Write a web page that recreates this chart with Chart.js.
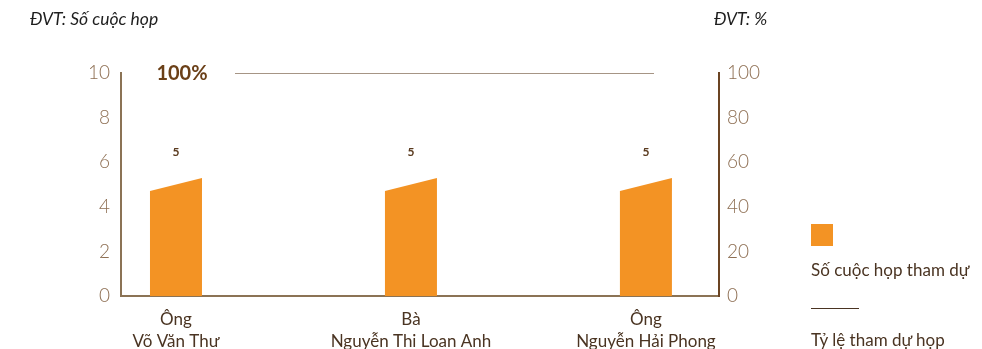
<!DOCTYPE html>
<html>
<head>
<meta charset="utf-8">
<script src="https://cdn.jsdelivr.net/npm/chart.js@4.4.1/dist/chart.umd.min.js"></script>
<style>
    body { margin: 0; background: #fff; }
    #wrap { position: relative; width: 982px; height: 349px; overflow: hidden; font-family: Lato, sans-serif; }
    #chart { position: absolute; left: 0; top: 0; }
    .unit { position: absolute; top: 8px; font-style: italic; font-size: 17.5px; color: #1e1e1e; }
    .legend-text { position: absolute; left: 811px; font-size: 17px; color: #4a3422; white-space: nowrap; }
    .legend-box { position: absolute; left: 811px; top: 224px; width: 22px; height: 22px; background: #f39324; }
    .legend-line { position: absolute; left: 811px; top: 308px; width: 48px; height: 1px; background: #4a3422; }
</style>
</head>
<body>
<div id="wrap">
    <canvas id="chart" width="982" height="349"></canvas>
    <div class="unit" style="left:30px">ĐVT: Số cuộc họp</div>
    <div class="unit" style="left:714px">ĐVT: %</div>
    <div class="legend-box"></div>
    <div class="legend-text" style="top:259px">Số cuộc họp tham dự</div>
    <div class="legend-line"></div>
    <div class="legend-text" style="top:329px">Tỷ lệ tham dự họp</div>
</div>
<script>
// Dữ liệu
const members = [['Ông', 'Võ Văn Thư'], ['Bà', 'Nguyễn Thi Loan Anh'], ['Ông', 'Nguyễn Hải Phong']];
const meetings = [5, 5, 5];
const attendRate = [100, 100, 100];
const leftTicks = [0, 2, 4, 6, 8, 10];
const rightTicks = [0, 20, 40, 60, 80, 100];

const ORANGE = '#f39324';
const BROWN = '#4f2c0c';
const TICK_COLOR = '#8d6e52';

// Cột có mặt trên nghiêng
const slantBars = {
    id: 'slantBars',
    beforeDatasetDraw(chart, args) {
        if (args.index !== 0) return;
        const { ctx } = chart;
        const slant = 6.5;
        ctx.save();
        ctx.fillStyle = ORANGE;
        args.meta.data.forEach(bar => {
            const half = bar.width / 2;
            ctx.beginPath();
            ctx.moveTo(bar.x - half, bar.base);
            ctx.lineTo(bar.x - half, bar.y + slant);
            ctx.lineTo(bar.x + half, bar.y - slant);
            ctx.lineTo(bar.x + half, bar.base);
            ctx.closePath();
            ctx.fill();
        });
        ctx.restore();
        return false;
    },
    afterDatasetsDraw(chart) {
        const { ctx } = chart;
        ctx.save();
        ctx.textAlign = 'center';
        ctx.textBaseline = 'middle';
        // nhãn giá trị trên cột
        ctx.fillStyle = '#5a3a1e';
        ctx.font = 'bold 12px Lato, sans-serif';
        chart.getDatasetMeta(0).data.forEach((bar, i) => {
            ctx.fillText(String(meetings[i]), bar.x, bar.y - 32);
        });
        // nhãn tỷ lệ ở đầu đường
        const p = chart.getDatasetMeta(1).data[0];
        ctx.fillStyle = '#6b4018';
        ctx.font = 'bold 20px Lato, sans-serif';
        ctx.fillText(attendRate[0] + '%', p.x - 53, p.y + 1);
        ctx.restore();
    }
};

const ctx = document.getElementById('chart').getContext('2d');
new Chart(ctx, {
    type: 'bar',
    data: {
        datasets: [
            {
                label: 'Số cuộc họp tham dự',
                data: meetings.map((v, i) => ({ x: i, y: v })),
                backgroundColor: ORANGE,
                barThickness: 52,
                grouped: false,
                xAxisID: 'x',
                yAxisID: 'y',
                order: 2
            },
            {
                type: 'line',
                label: 'Tỷ lệ tham dự họp',
                data: attendRate.map((v, i) => ({ x: i, y: v })),
                borderColor: BROWN,
                borderWidth: 1.2,
                pointRadius: 0,
                fill: false,
                xAxisID: 'x2',
                yAxisID: 'y2',
                order: 1
            }
        ]
    },
    options: {
        responsive: false,
        animation: false,
        layout: { padding: { top: 73, right: 203, bottom: 0, left: 0 } },
        plugins: {
            legend: { display: false },
            tooltip: { enabled: false }
        },
        scales: {
            x: {
                type: 'linear',
                offset: false,
                min: -0.234,
                max: 2.311,
                grid: { display: false, drawTicks: false },
                border: { color: '#8b7355', width: 2 },
                afterBuildTicks: s => { s.ticks = members.map((m, i) => ({ value: i })); },
                afterFit: s => { s.height = 53; },
                ticks: {
                    padding: 12,
                    autoSkip: false,
                    maxRotation: 0,
                    color: '#4a3422',
                    font: { family: 'Lato', size: 17, lineHeight: 1.3 },
                    callback: v => members[v]
                }
            },
            x2: {
                type: 'linear',
                display: false,
                offset: false,
                min: -0.544,
                max: 2.310
            },
            y: {
                position: 'left',
                min: 0,
                max: 10,
                grid: { display: false, drawTicks: false },
                border: { color: '#8b7355', width: 2 },
                afterBuildTicks: s => { s.ticks = leftTicks.map(v => ({ value: v })); },
                afterFit: s => { s.width = 121; },
                ticks: {
                    padding: 11,
                    color: TICK_COLOR,
                    font: { family: 'Lato', size: 19, weight: 300 }
                }
            },
            y2: {
                position: 'right',
                min: 0,
                max: 100,
                grid: { display: false, drawTicks: false },
                border: { color: '#6b4423', width: 2 },
                afterBuildTicks: s => { s.ticks = rightTicks.map(v => ({ value: v })); },
                afterFit: s => { s.width = 60; },
                ticks: {
                    padding: 8,
                    color: TICK_COLOR,
                    font: { family: 'Lato', size: 19, weight: 300 }
                }
            }
        }
    },
    plugins: [slantBars]
});
</script>
</body>
</html>
